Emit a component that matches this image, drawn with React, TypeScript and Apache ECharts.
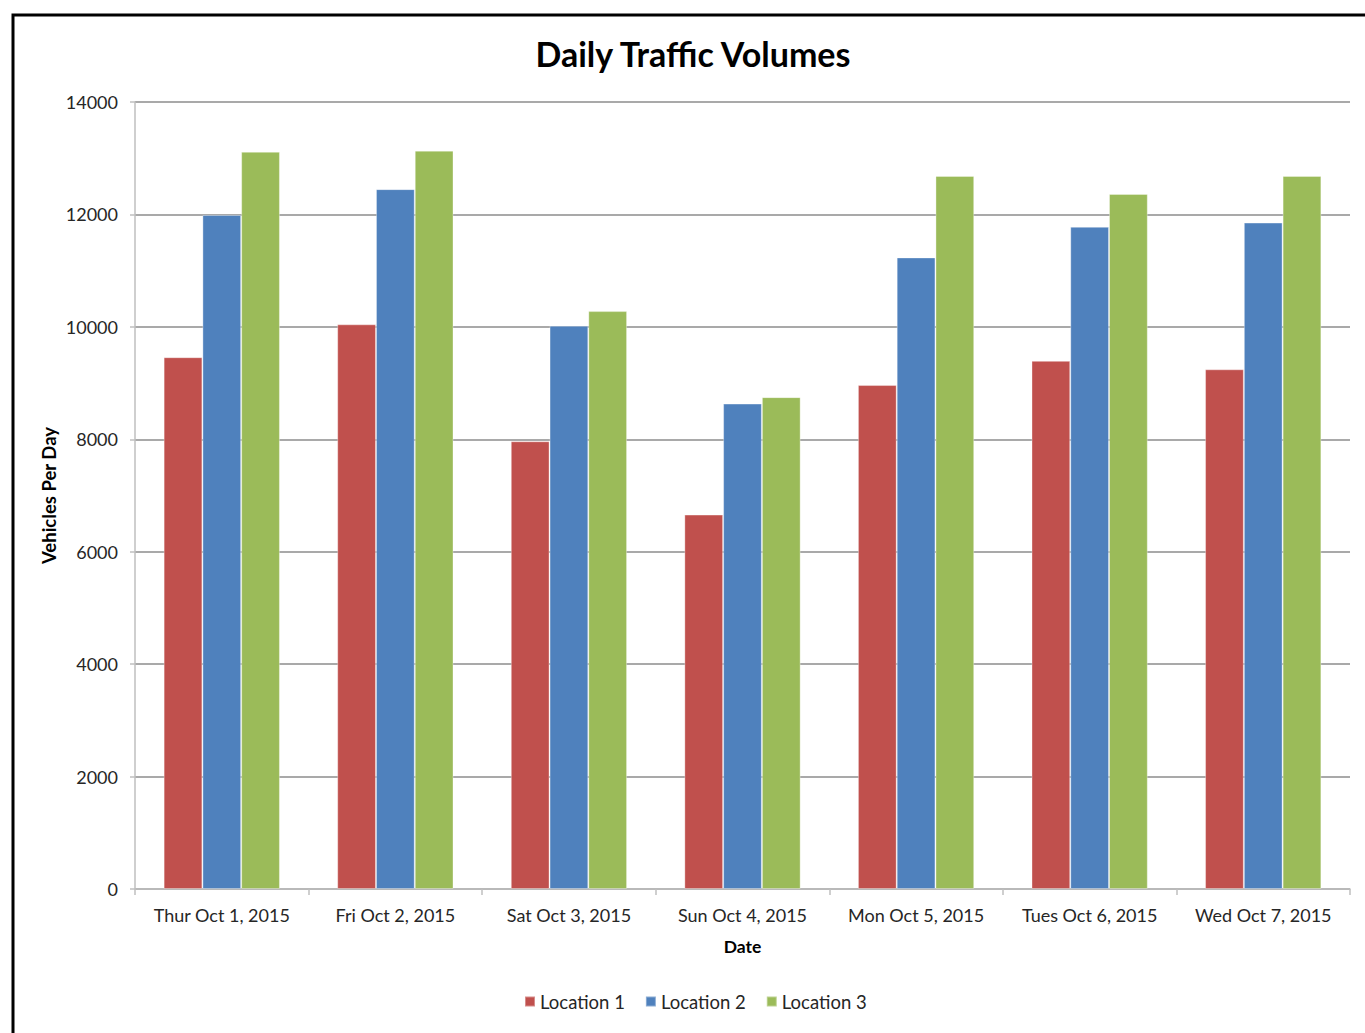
import React, { useEffect, useRef } from "react";
import * as echarts from "echarts";

const categories = [
  "Thur Oct 1, 2015",
  "Fri Oct 2, 2015",
  "Sat Oct 3, 2015",
  "Sun Oct 4, 2015",
  "Mon Oct 5, 2015",
  "Tues Oct 6, 2015",
  "Wed Oct 7, 2015",
];
const location1 = [9460, 10045, 7965, 6660, 8965, 9395, 9245];
const location2 = [11990, 12450, 10020, 8635, 11235, 11780, 11855];
const location3 = [13115, 13135, 10280, 8750, 12685, 12365, 12685];
const seriesNames = ["Location 1", "Location 2", "Location 3"];
const colors = ["#C0504D", "#4F81BD", "#9BBB59"];

const FONT = "Lato, 'Open Sans', sans-serif";

export default function App() {
  const ref = useRef<HTMLDivElement>(null);
  useEffect(() => {
    const chart = echarts.init(ref.current!, null, { renderer: "svg" });
    const data = [location1, location2, location3];
    chart.setOption({
      animation: false,
      textStyle: { fontFamily: FONT },
      title: {
        text: "Daily Traffic Volumes",
        left: 688,
        textAlign: "center",
        top: 31,
        textStyle: { fontFamily: FONT, fontSize: 34, fontWeight: "bold", color: "#000" },
      },
      graphic: [
        {
          type: "rect",
          shape: { x: 13, y: 15, width: 1365, height: 1030 },
          style: { fill: "none", stroke: "#000", lineWidth: 3 },
          silent: true,
        },
      ],
      legend: {
        data: seriesNames,
        left: 519,
        top: 987,
        icon: "rect",
        itemWidth: 10,
        itemHeight: 10,
        itemGap: 20,
        textStyle: { fontFamily: FONT, fontSize: 18.5, color: "#262626", padding: [0, 0, 0, 0] },
      },
      grid: { left: 135, top: 102, width: 1215, height: 787, containLabel: false },
      xAxis: {
        type: "category",
        data: categories,
        name: "Date",
        nameLocation: "middle",
        nameGap: 48,
        nameTextStyle: { fontFamily: FONT, fontSize: 17.5, fontWeight: "bold", color: "#000" },
        axisLine: { lineStyle: { color: "#bfbfbf", width: 1.5 } },
        axisTick: { show: true, length: 6, lineStyle: { color: "#bfbfbf", width: 1.5 } },
        axisLabel: { fontFamily: FONT, fontSize: 18, color: "#262626", margin: 17, interval: 0 },
      },
      yAxis: {
        type: "value",
        min: 0,
        max: 14000,
        interval: 2000,
        name: "Vehicles Per Day",
        nameLocation: "middle",
        nameGap: 77,
        nameMoveOverlap: false,
        nameRotate: 90,
        nameTextStyle: { fontFamily: FONT, fontSize: 18.5, fontWeight: "bold", color: "#000" },
        axisLine: { show: true, lineStyle: { color: "#bfbfbf", width: 1.5 } },
        axisTick: { show: true, length: 5, lineStyle: { color: "#bfbfbf", width: 1.5 } },
        axisLabel: {
          fontFamily: FONT,
          fontSize: 18,
          color: "#262626",
          margin: 17,
          formatter: (v: number) => String(v),
        },
        splitLine: { lineStyle: { color: "#8c8c8c", width: 1.5 } },
      },
      series: seriesNames.map((name, i) => ({
        name,
        type: "bar",
        data: data[i],
        barGap: "0%",
        barCategoryGap: "33%",
        itemStyle: { color: colors[i], borderColor: "rgba(255,255,255,0.35)", borderWidth: 1 },
      })),
    });
    return () => chart.dispose();
  }, []);
  return (
    <div style={{ position: "fixed", left: 0, top: 0, width: 1365, height: 1033, background: "#fff", overflow: "hidden" }}>
      <div ref={ref} style={{ width: 1365, height: 1033 }} />
    </div>
  );
}
